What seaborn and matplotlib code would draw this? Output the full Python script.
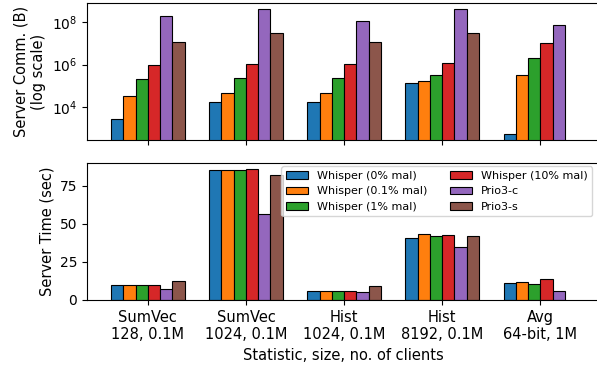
import numpy as np
import pandas as pd
import seaborn as sns
import matplotlib
matplotlib.use("Agg")
import matplotlib.pyplot as plt

stats = ["SumVec\n128, 0.1M", "SumVec\n1024, 0.1M", "Hist\n1024, 0.1M",
         "Hist\n8192, 0.1M", "Avg\n64-bit, 1M"]
systems = ["Whisper (0% mal)", "Whisper (0.1% mal)", "Whisper (1% mal)",
           "Whisper (10% mal)", "Prio3-c", "Prio3-s"]

# server communication in bytes, one list per system
comm_w0 = [2.7e3, 1.7e4, 1.7e4, 1.3e5, 5.3e2]
comm_w01 = [3.4e4, 4.7e4, 4.7e4, 1.6e5, 3.1e5]
comm_w1 = [2.1e5, 2.3e5, 2.3e5, 3.4e5, 2.1e6]
comm_w10 = [1.0e6, 1.05e6, 1.07e6, 1.2e6, 1.05e7]
comm_prio_c = [2.0e8, 4.0e8, 1.1e8, 4.0e8, 7.4e7]
comm_prio_s = [1.2e7, 3.2e7, 1.2e7, 3.2e7, np.nan]

# server time in seconds
time_w0 = [9.8, 85.3, 5.7, 40.5, 10.9]
time_w01 = [10.0, 85.1, 5.7, 43.1, 11.6]
time_w1 = [9.8, 85.1, 5.7, 42.2, 10.3]
time_w10 = [9.8, 85.7, 5.9, 42.4, 13.6]
time_prio_c = [7.2, 56.4, 5.2, 34.8, 5.9]
time_prio_s = [12.2, 82.0, 9.0, 42.0, np.nan]

comm = [comm_w0, comm_w01, comm_w1, comm_w10, comm_prio_c, comm_prio_s]
times = [time_w0, time_w01, time_w1, time_w10, time_prio_c, time_prio_s]

rows = []
for name, cvals, tvals in zip(systems, comm, times):
    for st, c, t in zip(stats, cvals, tvals):
        rows.append({"stat": st, "system": name, "comm": c, "time": t})
df = pd.DataFrame(rows)

plt.rcParams["font.family"] = ["DejaVu Sans"]
palette = sns.color_palette("tab10", 6)

fig = plt.figure(figsize=(5.97, 3.69), dpi=100)
ax1 = fig.add_axes([0.1457, 0.6206, 0.858, 0.3713])
ax2 = fig.add_axes([0.1457, 0.187, 0.858, 0.372])

ax1.set_yscale("log")
sns.barplot(data=df, x="stat", y="comm", hue="system", order=stats,
            hue_order=systems, palette=palette, width=0.75, saturation=1,
            edgecolor="black", linewidth=0.8, ax=ax1, legend=False)
ax1.set_ylim(2.75e2, 8.1e8)
ax1.set_yticks([1e4, 1e6, 1e8])
ax1.yaxis.set_minor_locator(matplotlib.ticker.NullLocator())
ax1.set_xticklabels([])
ax1.set_xlabel("")
ax1.set_ylabel("Server Comm. (B)\n(log scale)", fontsize=10.5)
ax1.set_xlim(-0.62, 4.6)

sns.barplot(data=df, x="stat", y="time", hue="system", order=stats,
            hue_order=systems, palette=palette, width=0.75, saturation=1,
            edgecolor="black", linewidth=0.8, ax=ax2)
ax2.set_ylim(0, 90)
ax2.set_yticks([0, 25, 50, 75])
ax2.set_xlim(-0.62, 4.6)
ax2.set_ylabel("Server Time (sec)", fontsize=10.5)
ax2.set_xlabel("Statistic, size, no. of clients", fontsize=10.5)
ax2.legend(title=None, ncol=2, fontsize=8, loc="upper right",
           bbox_to_anchor=(0.99, 0.99), borderaxespad=0.2)

for ax in (ax1, ax2):
    ax.tick_params(axis="y", labelsize=10)
    ax.tick_params(axis="x", labelsize=10.5)

fig.savefig("out.png", dpi=100)
